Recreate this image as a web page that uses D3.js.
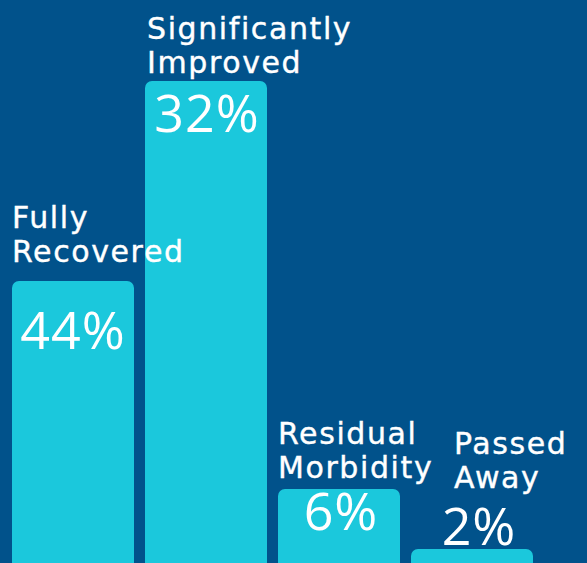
<!DOCTYPE html>
<html>
<head>
<meta charset="utf-8">
<script src="https://cdn.jsdelivr.net/npm/d3@7"></script>
<style>
  html, body { margin: 0; padding: 0; background: #01528B; }
  svg { display: block; }
</style>
</head>
<body>
<svg id="chart" width="587" height="563"></svg>
<script>
// ---- data ----
const categories = ["Fully Recovered", "Significantly Improved", "Residual Morbidity", "Passed Away"];
const labelLines = [["Fully", "Recovered"], ["Significantly", "Improved"], ["Residual", "Morbidity"], ["Passed", "Away"]];
const values = [44, 32, 6, 2];
const valueLabels = ["44%", "32%", "6%", "2%"];
// bar levels as drawn in the infographic (not proportional to values)
const barLevels = [56.4, 96.4, 14.8, 2.8];

// ---- layout ----
const W = 587, H = 563;
const bg = "#01528B", barColor = "#1BC8DC";
const catFontFamily = "'DejaVu Sans', sans-serif";
const valFontFamily = "'Open Sans', sans-serif";
const catFont = 30, valFont = 52, lineGap = 34;
// per-label placement tweaks (px)
const catDx = [0, 2, 0, 43];
const catDy = [-19, -8, -11, -61];    // second-line baseline relative to bar top
const valDx = [0, 1, 2, 7];
const valDy = [68, 51, 41, -4];       // value baseline relative to bar top

const svg = d3.select("#chart");
svg.append("rect").attr("width", W).attr("height", H).attr("fill", bg);

const x = d3.scaleBand().domain(categories).range([12, 533]).paddingInner(11 / 133).paddingOuter(0);
const y = d3.scaleLinear().domain([0, 100]).range([H, 63]);

const g = svg.append("g");
categories.forEach((c, i) => {
  const bx = x(c), bw = x.bandwidth(), top = y(barLevels[i]);
  g.append("rect")
    .attr("x", bx).attr("y", top)
    .attr("width", bw).attr("height", H - top + 20)
    .attr("rx", 7).attr("ry", 7)
    .attr("fill", barColor);
});

categories.forEach((c, i) => {
  const bx = x(c), top = y(barLevels[i]);
  const lines = labelLines[i];
  const t = svg.append("text")
    .attr("font-family", catFontFamily).attr("font-size", catFont)
    .attr("fill", "#fff").attr("letter-spacing", 1.6)
    .attr("stroke", "#fff").attr("stroke-width", 0.4);
  lines.forEach((ln, j) => {
    t.append("tspan")
      .attr("x", bx + catDx[i])
      .attr("y", top + catDy[i] - (lines.length - 1 - j) * lineGap)
      .text(ln);
  });
  svg.append("text")
    .attr("font-family", valFontFamily).attr("font-size", valFont)
    .attr("fill", "#fff").attr("text-anchor", "middle").attr("letter-spacing", 1)
    .attr("x", bx + x.bandwidth() / 2 + valDx[i])
    .attr("y", top + valDy[i])
    .text(valueLabels[i]);
});
</script>
</body>
</html>
